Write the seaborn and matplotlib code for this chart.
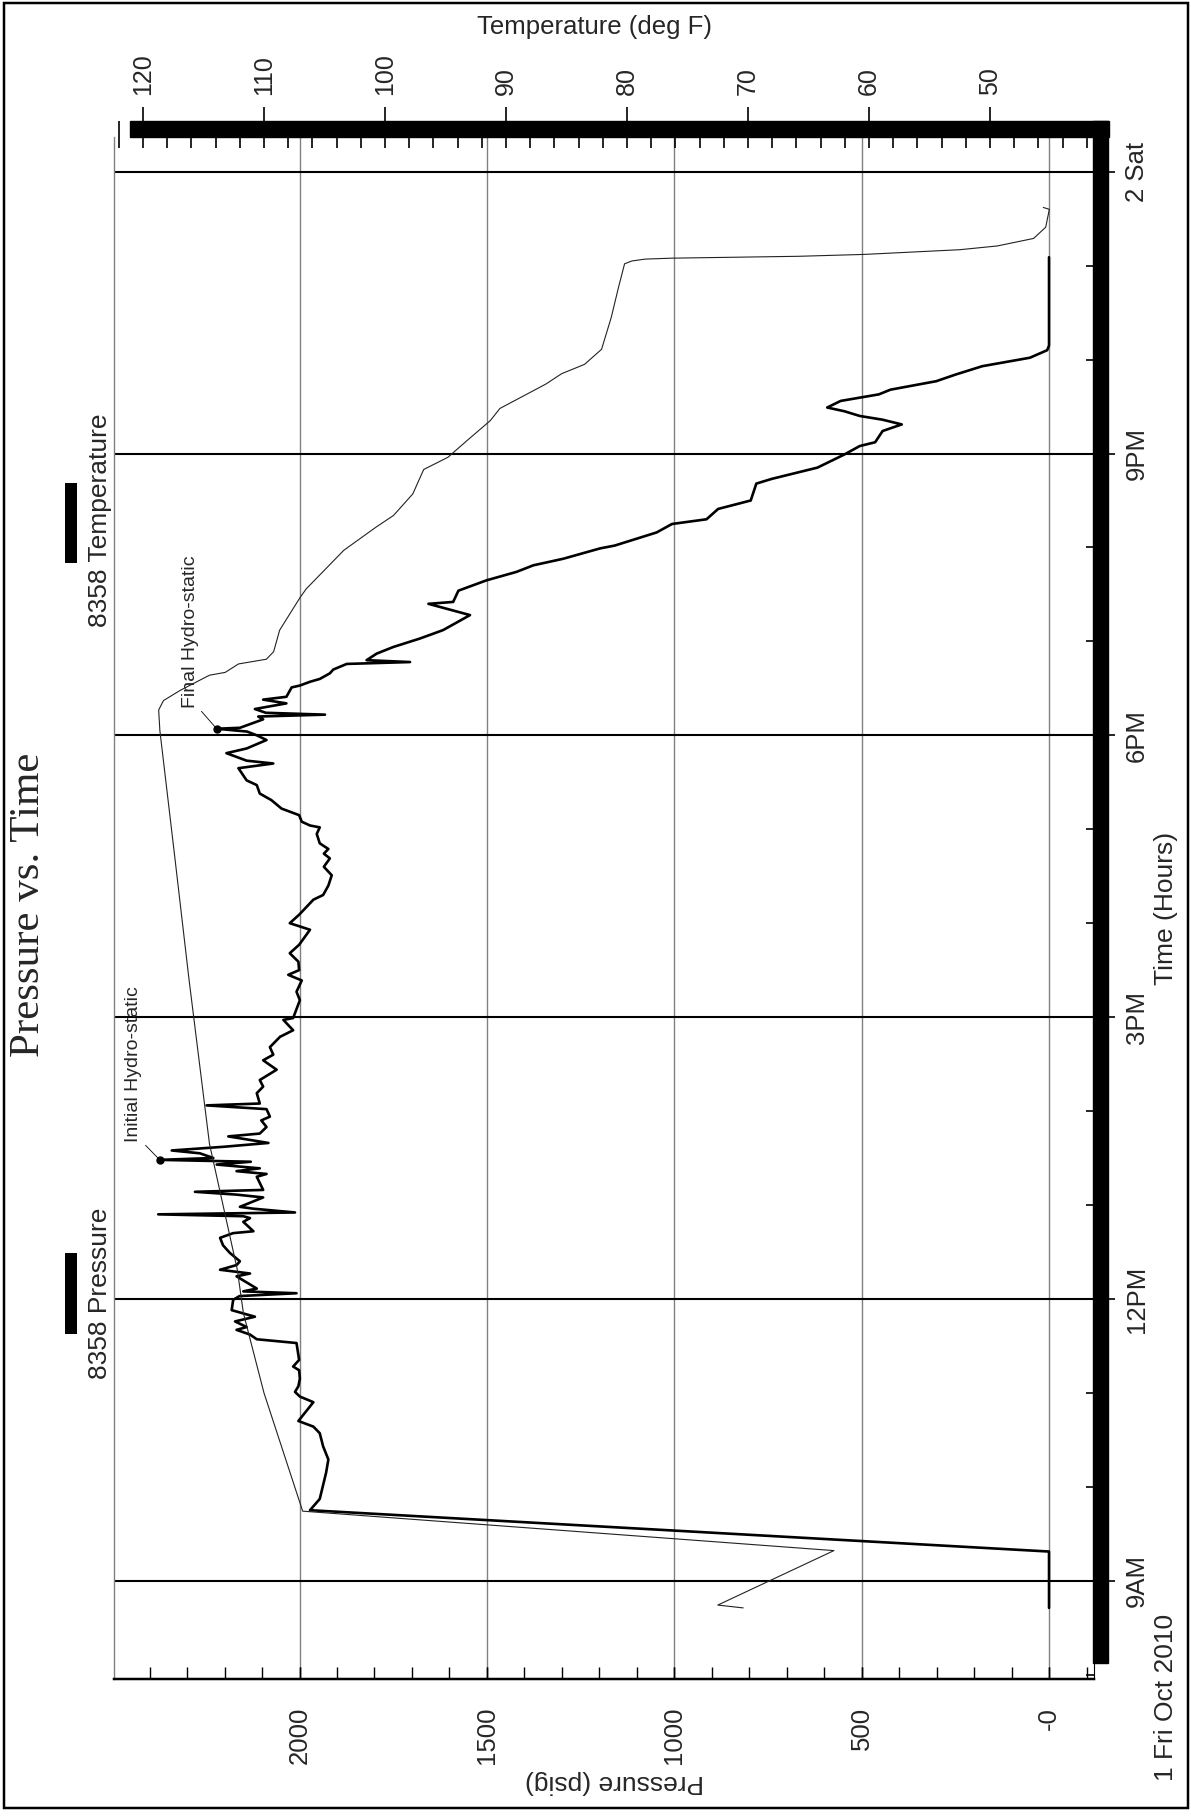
import matplotlib
matplotlib.use("Agg")
import matplotlib.pyplot as plt
import seaborn as sns
from matplotlib.patches import Rectangle
from matplotlib.lines import Line2D
from matplotlib.ticker import MultipleLocator, FixedLocator, FixedFormatter

# Pressure gauge 8358 (hours of 1 Oct 2010, psig)
pressure_hours = [8.71, 9.31, 9.75, 9.87, 10.15, 10.29, 10.43, 10.57, 10.64, 10.70,
                  10.81, 10.90, 10.96, 11.01, 11.07, 11.15, 11.24, 11.28, 11.35, 11.53,
                  11.57, 11.62, 11.67, 11.70, 11.76, 11.81, 11.88, 11.99, 12.03, 12.06,
                  12.08, 12.11, 12.24, 12.27, 12.31, 12.36, 12.40, 12.49, 12.57, 12.65,
                  12.70, 12.72, 12.82, 12.86, 12.88, 12.90, 12.92, 12.96, 12.98, 13.08,
                  13.11, 13.14, 13.16, 13.30, 13.33, 13.36, 13.39, 13.43, 13.46, 13.48,
                  13.50, 13.55, 13.58, 13.62, 13.66, 13.73, 13.76, 13.83, 13.90, 13.94,
                  14.02, 14.06, 14.07, 14.08, 14.19, 14.26, 14.33, 14.44, 14.54, 14.60,
                  14.68, 14.79, 14.86, 14.97, 14.99, 15.18, 15.27, 15.39, 15.45, 15.50,
                  15.59, 15.68, 15.77, 15.93, 16.00, 16.09, 16.25, 16.30, 16.40, 16.51,
                  16.60, 16.69, 16.74, 16.79, 16.85, 16.95, 17.02, 17.04, 17.08, 17.15,
                  17.22, 17.31, 17.38, 17.47, 17.52, 17.65, 17.70, 17.73, 17.81, 17.86,
                  17.95, 18.00, 18.04, 18.07, 18.08, 18.17, 18.20, 18.22, 18.24, 18.28,
                  18.34, 18.38, 18.41, 18.51, 18.53, 18.57, 18.60, 18.66, 18.70, 18.76,
                  18.78, 18.80, 18.87, 18.94, 19.03, 19.12, 19.28, 19.40, 19.42, 19.54,
                  19.65, 19.74, 19.81, 19.88, 19.99, 20.02, 20.16, 20.25, 20.30, 20.41,
                  20.50, 20.68, 20.73, 20.85, 20.99, 21.08, 21.12, 21.24, 21.31, 21.36,
                  21.40, 21.45, 21.49, 21.56, 21.63, 21.68, 21.77, 21.84, 21.93, 22.02,
                  22.10, 22.15, 23.09]
pressure_psig = [0, 0, 1972, 1946, 1929, 1923, 1937, 1946, 1963, 2003,
                 1981, 1963, 1999, 2012, 2003, 1999, 2001, 2017, 2001, 2008,
                 2114, 2132, 2168, 2141, 2172, 2119, 2181, 2177, 2160, 2008,
                 2150, 2114, 2168, 2132, 2212, 2168, 2159, 2186, 2204, 2212,
                 2177, 2123, 2150, 2132, 2150, 2377, 2012, 2123, 2159, 2097,
                 2168, 2279, 2097, 2114, 2088, 2168, 2106, 2221, 2130, 2373,
                 2230, 2266, 2341, 2200, 2083, 2190, 2106, 2088, 2102, 2079,
                 2088, 2248, 2180, 2106, 2114, 2097, 2106, 2061, 2097, 2070,
                 2079, 2052, 2017, 2043, 2017, 1999, 2008, 1994, 2030, 2001,
                 2003, 2026, 2001, 1972, 2026, 2001, 1963, 1937, 1923, 1914,
                 1935, 1919, 1935, 1923, 1946, 1954, 1946, 1972, 1994, 2001,
                 2048, 2075, 2106, 2114, 2141, 2163, 2070, 2141, 2195, 2141,
                 2088, 2114, 2140, 2221, 2159, 2097, 2110, 1932, 2090, 2119,
                 2035, 2097, 2035, 2021, 1999, 1972, 1946, 1919, 1910, 1874,
                 1705, 1821, 1794, 1750, 1679, 1617, 1545, 1656, 1590, 1576,
                 1501, 1421, 1376, 1296, 1198, 1159, 1047, 1006, 914, 883,
                 796, 781, 740, 618, 546, 505, 464, 444, 393, 444,
                 505, 546, 592, 556, 454, 423, 301, 250, 178, 51,
                 5, 0, 0]

# Temperature gauge 8358 (deg F)
temp_hours = [8.71, 8.74, 9.32, 9.74, 11.00, 11.85, 12.31, 13.65, 15.41, 16.74,
              18.05, 18.27, 18.37, 18.48, 18.64, 18.67, 18.76, 18.81, 18.89, 19.12,
              19.47, 19.56, 19.97, 20.22, 20.34, 20.57, 20.83, 20.96, 21.14, 21.35,
              21.48, 21.74, 21.85, 21.95, 22.11, 22.45, 22.77, 23.02, 23.05, 23.07,
              23.08, 23.10, 23.12, 23.17, 23.21, 23.29, 23.41, 23.60, 23.62]
temp_degf = [70.4, 72.5, 62.9, 106.8, 110.0, 111.7, 112.2, 114.5, 116.2, 117.4,
             118.6, 118.7, 118.3, 116.9, 114.5, 113.2, 112.1, 109.8, 109.2, 108.7,
             107.0, 106.5, 103.4, 100.7, 99.3, 97.7, 96.8, 94.8, 93.2, 91.3,
             90.5, 86.7, 85.4, 83.5, 82.1, 81.3, 80.7, 80.2, 79.6, 78.5,
             76.3, 65.8, 60.4, 52.5, 49.4, 46.4, 45.4, 45.1, 45.6]

# marked events
event_labels = ["Initial Hydro-static", "Final Hydro-static"]
event_hours = [13.48, 18.07]
event_psig = [2373, 2221]

time_ticks = [9, 12, 15, 18, 21, 24]
time_ticklabels = ["9AM", "12PM", "3PM", "6PM", "9PM", "2 Sat"]
pressure_ticks = [0, 500, 1000, 1500, 2000]
pressure_ticklabels = ["-0", "500", "1000", "1500", "2000"]

sns.set_style("white")
plt.rcParams['font.family'] = ['Liberation Sans', 'DejaVu Sans']

DPI = 100
PX = 72 / DPI  # points per pixel
W, H = 1191, 1818
fig = plt.figure(figsize=(W / DPI, H / DPI), dpi=DPI)
fig.patch.set_facecolor('white')

ax = fig.add_axes([114 / W, 139 / H, 980 / W, 1542 / H])
ax2 = ax.twiny()

sns.lineplot(x=pressure_psig, y=pressure_hours, sort=False, estimator=None,
             color='black', lw=1.9, ax=ax)
sns.lineplot(x=temp_degf, y=temp_hours, sort=False, estimator=None,
             color='#222222', lw=0.8, ax=ax2)
ax.plot(event_psig, event_hours, 'o', color='black', ms=5, zorder=4)

# hydro-static labels
text_pos = [(2442, 13.67), (2292, 18.29)]
for lab, px_, hr, (tx, ty) in zip(event_labels, event_psig, event_hours, text_pos):
    ax.annotate(lab, xy=(px_, hr), xytext=(tx, ty), textcoords='data',
                rotation=90, ha='center', va='bottom', fontsize=14,
                arrowprops=dict(arrowstyle='-', color='black', lw=0.6,
                                relpos=(1, 0), shrinkA=0, shrinkB=2))

ax.set_xlim(2495, -120)
ax2.set_xlim(122.39, 41.41)
ax.set_ylim(7.953, 24.37)

# pressure axis (bottom)
ax.xaxis.set_major_locator(FixedLocator(pressure_ticks))
ax.xaxis.set_major_formatter(FixedFormatter(pressure_ticklabels))
ax.xaxis.set_minor_locator(MultipleLocator(100))
ax.xaxis.remove_overlapping_locs = False
ax.tick_params(axis='x', which='both', direction='in', length=12 * PX, width=1,
               bottom=True, top=False, color='black')
ax.tick_params(axis='x', which='major', labelrotation=90, labelsize=18.5, pad=28 * PX)

# time axis (right)
ax.yaxis.tick_right()
ax.yaxis.set_major_locator(FixedLocator(time_ticks))
ax.yaxis.set_major_formatter(FixedFormatter(time_ticklabels))
ax.yaxis.set_minor_locator(MultipleLocator(1))
ax.tick_params(axis='y', which='major', direction='out', length=21 * PX, width=1.2,
               right=True, left=False, labelright=True, labelleft=False,
               labelrotation=90, labelsize=18.5, pad=10 * PX, color='black')
ax.tick_params(axis='y', which='minor', direction='in', length=8 * PX, width=1.2,
               right=True, left=False, color='black')
plt.setp(ax.get_yticklabels(), va='center')

ax.grid(True, axis='x', which='major', color='#808080', lw=1.0)
ax.grid(True, axis='y', which='major', color='black', lw=1.5)
ax.set_axisbelow(True)

ax.spines['top'].set_visible(False)
ax.spines['left'].set_color('#808080')
ax.spines['left'].set_linewidth(1.0)
ax.spines['bottom'].set_color('black')
ax.spines['bottom'].set_linewidth(2.5 * PX)
ax.spines['right'].set_color('black')

# temperature axis (top)
ax2.xaxis.set_major_locator(MultipleLocator(10))
ax2.xaxis.set_minor_locator(MultipleLocator(2))
ax2.xaxis.remove_overlapping_locs = False
ax2.spines['top'].set_position(('outward', 16 * PX))
for s in ['top', 'bottom', 'left', 'right']:
    ax2.spines[s].set_visible(False)
ax2.tick_params(axis='x', which='major', direction='out', length=14 * PX, width=1.2,
                top=True, bottom=False, labeltop=True, labelbottom=False,
                labelrotation=90, labelsize=18, pad=12 * PX, color='black')
ax2.tick_params(axis='x', which='minor', direction='in', length=27 * PX, width=1.2,
                top=True, bottom=False, color='black')

# heavy frame bars along top and right
ax2.add_patch(Rectangle((16 / 980, 1.0), 979 / 980, 16 / 1542, transform=ax2.transAxes,
                        color='black', clip_on=False, zorder=5))
ax2.add_patch(Rectangle((979 / 980, 16 / 1542), 15 / 980, 1.0, transform=ax2.transAxes,
                        color='black', clip_on=False, zorder=5))

# axis labels
ax.set_xlabel('Pressure (psig)', fontsize=19, rotation=180)
ax.xaxis.set_label_coords(0.511, -0.0668)
ax.xaxis.label.set_va('center')

ax.yaxis.set_label_position('right')
ax.set_ylabel('Time (Hours)', fontsize=19, rotation=90)
ax.yaxis.set_label_coords(1.0735, 0.4994)
ax.yaxis.label.set_va('center')
ax.yaxis.label.set_ha('center')

ax2.set_xlabel('Temperature (deg F)', fontsize=18.5)
ax2.xaxis.set_label_coords(0.4898, 1.0713)
ax2.xaxis.label.set_va('center')

fig.text(1166 / W, 1 - 1697 / H, '1 Fri Oct 2010', rotation=90, ha='center',
         va='center', fontsize=19)

# title
fig.text(29 / W, 1 - 905 / H, 'Pressure vs. Time', rotation=90, ha='center', va='center',
         fontsize=31, family=['Liberation Serif', 'DejaVu Serif'])

# legend entries
legend_items = [('8358 Temperature', 483, 563, 520), ('8358 Pressure', 1253, 1334, 1293)]
for name, y0, y1, yc in legend_items:
    fig.add_artist(Line2D([71 / W, 71 / W], [1 - y0 / H, 1 - y1 / H], transform=fig.transFigure,
                          color='black', lw=12 * PX, solid_capstyle='butt'))
    fig.text(100 / W, 1 - yc / H, name, rotation=90, ha='center', va='center', fontsize=19)

# outer border
fig.patches.append(Rectangle((4 / W, 10 / H), 1184 / W, 1805 / H, transform=fig.transFigure,
                             fill=False, lw=2.5 * PX, ec='black'))

fig.savefig('out.png', dpi=DPI)
